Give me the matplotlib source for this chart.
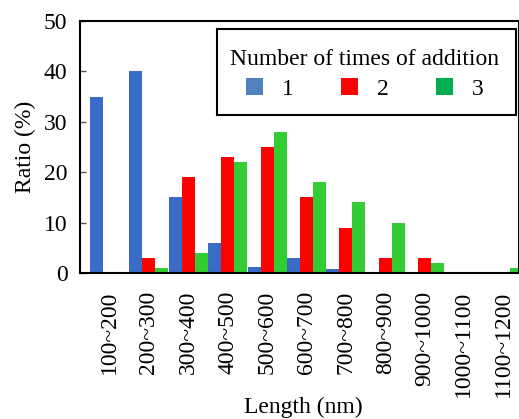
import numpy as np
import matplotlib.pyplot as plt
from matplotlib.patches import Patch, Rectangle

plt.rcParams['font.family'] = ['Liberation Serif', 'DejaVu Serif']

categories = ["100~200", "200~300", "300~400", "400~500", "500~600", "600~700",
              "700~800", "800~900", "900~1000", "1000~1100", "1100~1200"]
series_names = ["1", "2", "3"]
times_1 = [35, 40, 15, 6, 1.2, 3, 0.8, 0, 0, 0, 0]
times_2 = [0, 3, 19, 23, 25, 15, 9, 3, 3, 0, 0]
times_3 = [0, 1, 4, 22, 28, 18, 14, 10, 2, 0, 1]

bar_colors = ["#3a6bc8", "#ff0000", "#33cc33"]
legend_colors = ["#4f81bd", "#ff0000", "#00b050"]

W, H = 519, 419
fig = plt.figure(figsize=(W / 100, H / 100), dpi=100)
ax = fig.add_axes([80 / W, 1 - 273 / H, 439 / W, 252 / H])

x = np.arange(len(categories))
w = 0.33
for k, vals in enumerate([times_1, times_2, times_3]):
    ax.bar(x + (k - 1) * w, vals, width=w, color=bar_colors[k], linewidth=0)

# right edge of the plot is cut by the figure border, as in the original
ax.set_xlim(-0.75, 10.4)
ax.set_ylim(0, 50)
ax.set_yticks([0, 10, 20, 30, 40, 50])
ax.set_xticks(x)
ax.set_xticklabels(categories, rotation=90)
ax.tick_params(axis='x', length=0, pad=13, labelsize=17)
ax.tick_params(axis='y', direction='in', length=4, width=1, color='#555555',
               labelsize=17, pad=9)
for s in ax.spines.values():
    s.set_linewidth(1.5)

ax.set_xlabel("Length (nm)", fontsize=17, va='center')
ax.xaxis.set_label_coords(0.508, -0.535)
ax.set_ylabel("Ratio (%)", fontsize=17, labelpad=6)

# legend box drawn by hand: taller padding above/below than at the sides
box = Rectangle((217 / W, 1 - 115 / H), 299 / W, 86 / H,
                transform=fig.transFigure, facecolor='white',
                edgecolor='black', linewidth=1.5, zorder=5, clip_on=False)
ax.add_artist(box)
handles = [Patch(facecolor=c, edgecolor='none') for c in legend_colors]
leg = ax.legend(handles, series_names, title="Number of times of addition",
                ncol=3, loc='upper left', bbox_to_anchor=(230 / W, 1 - 49 / H),
                bbox_transform=fig.transFigure, fontsize=17, title_fontsize=17,
                handlelength=0.72, handleheight=0.72, handletextpad=0.8,
                columnspacing=2.0, frameon=False, borderpad=0,
                borderaxespad=0, labelspacing=0.35)
leg.set_zorder(6)

fig.savefig("out.png", dpi=100)
